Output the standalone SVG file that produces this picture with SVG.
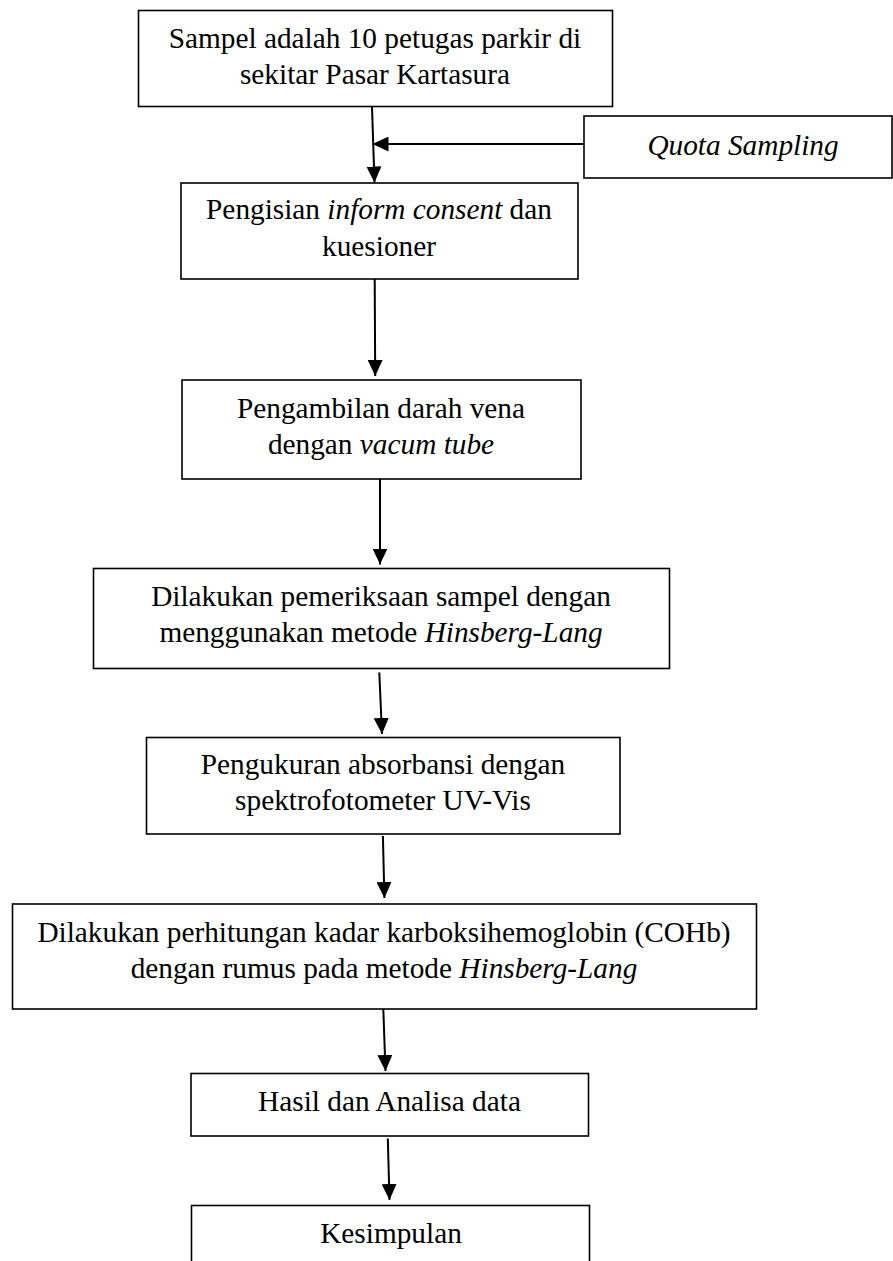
<svg xmlns="http://www.w3.org/2000/svg" width="893" height="1261" viewBox="0 0 893 1261">
<style>
.box{fill:#fff;stroke:#000;stroke-width:1.6}
.t{font-family:"Liberation Serif","Times New Roman",serif;font-size:29.3px;fill:#000;text-anchor:middle}
.i{font-style:italic}
.c{stroke:#000;stroke-width:2;fill:none}
</style>
<defs>
<marker id="ah" markerUnits="userSpaceOnUse" markerWidth="17" markerHeight="15" refX="16" refY="7.5" orient="auto">
<path d="M0,0 L16,7.5 L0,15 z" fill="#000"/>
</marker>
</defs>
<rect width="893" height="1261" fill="#fff"/>
<g id="n1"><rect class="box" x="138.5" y="10.5" width="474" height="96"/>
<text class="t" x="375" y="48">Sampel adalah 10 petugas parkir di</text>
<text class="t" x="375" y="84">sekitar Pasar Kartasura</text></g>
<g id="nq"><rect class="box" x="584" y="116" width="308" height="62"/>
<text class="t i" x="743" y="155">Quota Sampling</text></g>
<g id="n2"><rect class="box" x="181" y="183" width="397" height="96"/>
<text class="t" x="379" y="219"><tspan>Pengisian </tspan><tspan class="i">inform consent</tspan><tspan> dan</tspan></text>
<text class="t" x="379" y="256">kuesioner</text></g>
<g id="n3"><rect class="box" x="182" y="380" width="399" height="99"/>
<text class="t" x="381" y="418">Pengambilan darah vena</text>
<text class="t" x="381" y="454"><tspan>dengan </tspan><tspan class="i">vacum tube</tspan></text></g>
<g id="n4"><rect class="box" x="93.5" y="568.5" width="576" height="100"/>
<text class="t" x="381" y="606">Dilakukan pemeriksaan sampel dengan</text>
<text class="t" x="381" y="642"><tspan>menggunakan metode </tspan><tspan class="i">Hinsberg-Lang</tspan></text></g>
<g id="n5"><rect class="box" x="146.5" y="737.5" width="473.5" height="96.5"/>
<text class="t" x="383" y="774">Pengukuran absorbansi dengan</text>
<text class="t" x="383" y="810">spektrofotometer UV-Vis</text></g>
<g id="n6"><rect class="box" x="12.5" y="904" width="744" height="105"/>
<text class="t" x="384" y="942">Dilakukan perhitungan kadar karboksihemoglobin (COHb)</text>
<text class="t" x="384" y="978"><tspan>dengan rumus pada metode </tspan><tspan class="i">Hinsberg-Lang</tspan></text></g>
<g id="n7"><rect class="box" x="191" y="1073.5" width="397.5" height="62.5"/>
<text class="t" x="389.5" y="1111">Hasil dan Analisa data</text></g>
<g id="n8"><rect class="box" x="191.5" y="1205.5" width="398" height="80"/>
<text class="t" x="391" y="1243">Kesimpulan</text></g>
<g id="connectors">
<line class="c" x1="372" y1="107" x2="374.5" y2="182.5" marker-end="url(#ah)"/>
<line class="c" x1="584" y1="144" x2="372.5" y2="144" marker-end="url(#ah)"/>
<line class="c" x1="374.7" y1="279" x2="375.2" y2="376" marker-end="url(#ah)"/>
<line class="c" x1="380" y1="479" x2="380" y2="564.5" marker-end="url(#ah)"/>
<line class="c" x1="379.3" y1="672.5" x2="382" y2="734" marker-end="url(#ah)"/>
<line class="c" x1="382.9" y1="836" x2="384.4" y2="898" marker-end="url(#ah)"/>
<line class="c" x1="383.3" y1="1009" x2="385.5" y2="1071" marker-end="url(#ah)"/>
<line class="c" x1="387.8" y1="1138.5" x2="389.5" y2="1200" marker-end="url(#ah)"/>
</g>
</svg>
